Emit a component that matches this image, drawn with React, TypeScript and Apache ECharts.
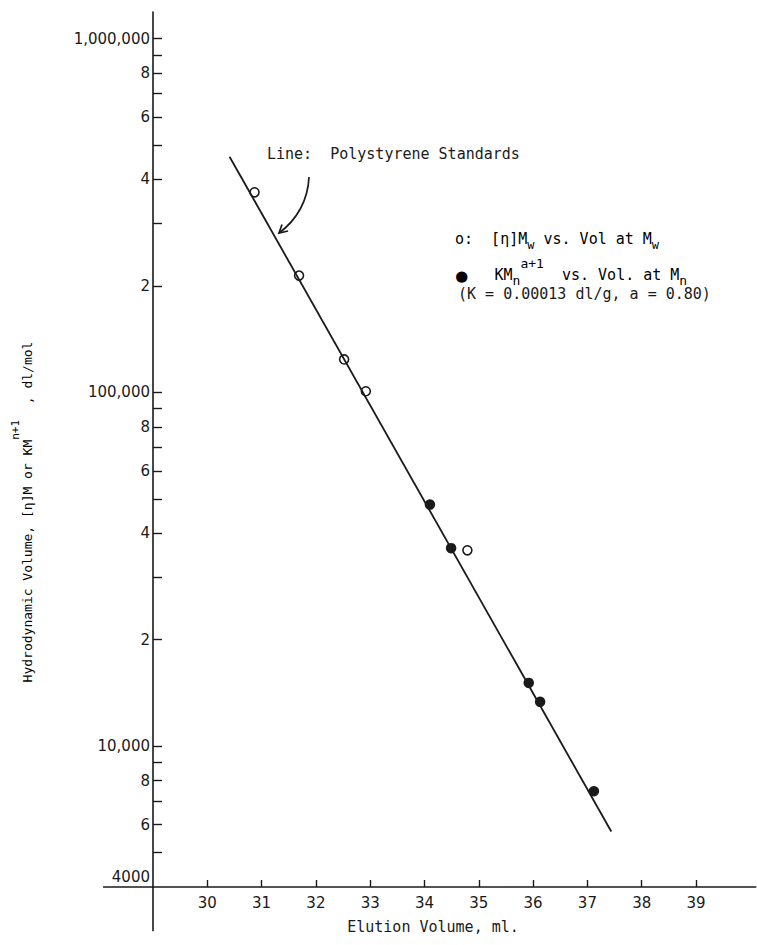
import React, { useEffect, useRef } from 'react';
import * as echarts from 'echarts';

// ---- data ----
const xTickValues = [30, 31, 32, 33, 34, 35, 36, 37, 38, 39];
const yTickValues = [
  5000, 6000, 7000, 8000, 9000,
  10000, 20000, 30000, 40000, 50000, 60000, 70000, 80000, 90000,
  100000, 200000, 300000, 400000, 500000, 600000, 700000, 800000, 900000,
  1000000,
];
const yLabelValues = [4000, 6000, 8000, 10000, 20000, 40000, 60000, 80000, 100000, 200000, 400000, 600000, 800000, 1000000];
const yLabelTexts = ['4000', '6', '8', '10,000', '2', '4', '6', '8', '100,000', '2', '4', '6', '8', '1,000,000'];

// open circles: [η]Mw vs. Vol at Mw
const openVol = [30.87, 31.69, 32.52, 32.92, 34.79];
const openHv = [368000, 214000, 124000, 100800, 35800];
// filled circles: KMn^(a+1) vs. Vol. at Mn
const filledVol = [34.1, 34.49, 35.92, 36.13, 37.12];
const filledHv = [48200, 36300, 15100, 13350, 7460];
// polystyrene standards line (end points)
const lineVol = [30.41, 37.44];
const lineHv = [464000, 5740];

const xMin = 29;
const xMax = 40.1;
const yMin = 4000;
const yMax = 1190000;
const xAxisLeftEnd = 28.08;
const yAxisBottomEnd = 3000;

const INK = '#1a1a1a';
const MONO = '"DejaVu Sans Mono", "Liberation Mono", monospace';
const SANS = '"DejaVu Sans", "Liberation Sans", sans-serif';

export default function App() {
  const ref = useRef<HTMLDivElement>(null);

  useEffect(() => {
    if (!ref.current) return;
    const chart = echarts.init(ref.current, undefined, { renderer: 'svg' });

    const option: any = {
      animation: false,
      backgroundColor: '#ffffff',
      grid: { left: 153, right: 1.3, top: 12, bottom: 58, containLabel: false, outerBoundsMode: 'none' },
      xAxis: {
        type: 'value',
        min: xMin,
        max: xMax,
        interval: 1,
        axisLine: { show: true, lineStyle: { color: INK, width: 1.6 } },
        axisTick: { show: true, inside: true, length: 7, customValues: xTickValues, lineStyle: { color: INK, width: 1.4 } },
        axisLabel: {
          show: true,
          customValues: xTickValues,
          margin: 8,
          color: INK,
          fontFamily: SANS,
          fontSize: 15,
        },
        splitLine: { show: false },
      },
      yAxis: {
        type: 'log',
        logBase: 10,
        min: yMin,
        max: yMax,
        axisLine: { show: true, lineStyle: { color: INK, width: 1.6 } },
        axisTick: { show: true, inside: true, length: 9, customValues: yTickValues, lineStyle: { color: INK, width: 1.4 } },
        axisLabel: {
          show: true,
          customValues: yLabelValues,
          margin: 3,
          color: INK,
          fontFamily: SANS,
          fontSize: 15,
          formatter: (v: number) => {
            let idx = -1;
            yLabelValues.forEach((lv, i) => {
              if (Math.abs(lv - v) / lv < 1e-6) idx = i;
            });
            if (idx < 0) return '';
            if (idx === 0) return '{low|' + yLabelTexts[idx] + '}';
            return yLabelTexts[idx];
          },
          rich: {
            low: { fontFamily: SANS, fontSize: 15, color: INK, padding: [0, 0, 20, 0] },
          },
        },
        splitLine: { show: false },
      },
      series: [
        {
          type: 'line',
          name: 'Polystyrene Standards',
          data: lineVol.map((v, i) => [v, lineHv[i]]),
          symbol: 'none',
          lineStyle: { color: INK, width: 1.8 },
          z: 2,
        },
        {
          type: 'scatter',
          name: '[η]Mw vs. Vol at Mw',
          data: openVol.map((v, i) => [v, openHv[i]]),
          symbol: 'circle',
          symbolSize: 9,
          itemStyle: { color: 'rgba(0,0,0,0)', borderColor: INK, borderWidth: 1.6, opacity: 1 },
          z: 3,
        },
        {
          type: 'scatter',
          name: 'KMn^(a+1) vs. Vol. at Mn',
          data: filledVol.map((v, i) => [v, filledHv[i]]),
          symbol: 'circle',
          symbolSize: 10.5,
          itemStyle: { color: INK, opacity: 1 },
          z: 3,
        },
      ],
    };
    chart.setOption(option);

    const origin = chart.convertToPixel({ gridIndex: 0 }, [xMin, yMin]) as number[];
    const yBottom = chart.convertToPixel({ gridIndex: 0 }, [xMin, yAxisBottomEnd]) as number[];
    const xLeft = chart.convertToPixel({ gridIndex: 0 }, [xAxisLeftEnd, yMin]) as number[];

    const legendRich1 = {
      m: { fontFamily: MONO, fontSize: 15, color: INK },
      sub: { fontFamily: MONO, fontSize: 12, color: INK, padding: [12, 0, 0, 0] },
    };
    const legendRich2 = {
      m: { fontFamily: MONO, fontSize: 15, color: INK },
      dot: { fontFamily: MONO, fontSize: 19, color: INK },
      sup: { fontFamily: MONO, fontSize: 13, color: INK, padding: [0, 0, 24, 0] },
      sub: { fontFamily: MONO, fontSize: 13, color: INK, padding: [10, 0, 0, 0] },
    };
    const yTitleRich = {
      m: { fontFamily: MONO, fontSize: 13, lineHeight: 34, color: INK },
      sup: { fontFamily: MONO, fontSize: 11, lineHeight: 14, verticalAlign: 'top', color: INK },
    };

    chart.setOption({
      graphic: [
        {
          type: 'line',
          shape: { x1: origin[0], y1: origin[1], x2: yBottom[0], y2: yBottom[1] },
          style: { stroke: INK, lineWidth: 1.6 },
        },
        {
          type: 'line',
          shape: { x1: xLeft[0], y1: xLeft[1], x2: origin[0], y2: origin[1] },
          style: { stroke: INK, lineWidth: 1.6 },
        },
        {
          type: 'text',
          x: 267,
          y: 154,
          style: { text: 'Line:  Polystyrene Standards', fontFamily: MONO, fontSize: 15, fill: INK, align: 'left', verticalAlign: 'middle' },
        },
        {
          type: 'bezierCurve',
          shape: { x1: 309, y1: 177, cpx1: 308, cpy1: 200, cpx2: 297, cpy2: 220, x2: 279, y2: 233 },
          style: { stroke: INK, lineWidth: 1.7, fill: 'none' },
        },
        {
          type: 'polyline',
          shape: { points: [[282, 224.5], [279, 233], [288, 231]] },
          style: { stroke: INK, lineWidth: 1.7, fill: 'none' },
        },
        {
          type: 'text',
          x: 455,
          y: 239,
          style: {
            text: '{m|o:  [η]M}{sub|w}{m| vs. Vol at M}{sub|w}',
            rich: legendRich1,
            align: 'left',
            verticalAlign: 'middle',
          },
        },
        {
          type: 'text',
          x: 456,
          y: 275,
          style: {
            text: '{dot|●}{m|   KM}{sub|n}{sup|a+1}{m|  vs. Vol. at M}{sub|n}',
            rich: legendRich2,
            align: 'left',
            verticalAlign: 'middle',
          },
        },
        {
          type: 'text',
          x: 458,
          y: 294,
          style: {
            text: '(K = 0.00013 dl/g, a = 0.80)',
            fontFamily: MONO,
            fontSize: 15,
            fill: INK,
            align: 'left',
            verticalAlign: 'middle',
          },
        },
        {
          type: 'text',
          x: 433,
          y: 927,
          style: {
            text: 'Elution Volume, ml.',
            fontFamily: MONO,
            fontSize: 15,
            fill: INK,
            align: 'center',
            verticalAlign: 'middle',
          },
        },
        {
          type: 'text',
          x: 27,
          y: 512,
          rotation: Math.PI / 2,
          style: {
            text: '{m|Hydrodynamic Volume, [η]M or KM}{sup|n+1}{m|  , dl/mol}',
            rich: yTitleRich,
            align: 'center',
            verticalAlign: 'middle',
          },
        },
      ],
    });

    return () => chart.dispose();
  }, []);

  return (
    <div
      ref={ref}
      style={{ position: 'fixed', left: 0, top: 0, width: 757, height: 945, background: '#ffffff' }}
    />
  );
}
